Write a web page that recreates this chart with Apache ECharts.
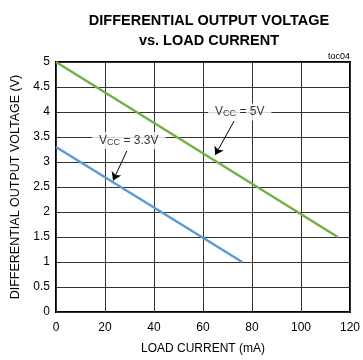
<!DOCTYPE html>
<html><head><meta charset="utf-8">
<script src="https://cdn.jsdelivr.net/npm/echarts@6/dist/echarts.min.js"></script>
<style>html,body{margin:0;padding:0;background:#fff}#c{width:363px;height:360px}</style>
</head><body><div id="c"></div>
<script>
// Data
const xTicks = [0, 20, 40, 60, 80, 100, 120];
const yTicks = [0, 0.5, 1, 1.5, 2, 2.5, 3, 3.5, 4, 4.5, 5];
const vcc5Current = [0, 115];
const vcc5Voltage = [5, 1.5];
const vcc33Current = [0, 76];
const vcc33Voltage = [3.3, 1.0];
// annotations (data coordinates)
const label5 = [75, 4.0];
const arrow5 = [[72.7, 3.82], [65, 3.14]];
const label33 = [29.7, 3.43];
const arrow33 = [[28.9, 3.22], [23.3, 2.63]];

const FONT = 'Liberation Sans, Arial, sans-serif';
const chart = echarts.init(document.getElementById('c'), null, {renderer: 'canvas'});
const pairs = (xs, ys) => xs.map((x, i) => [x, ys[i]]);
const rich = {
  v: {fontSize: 12, fontFamily: FONT, color: '#000'},
  s: {fontSize: 9, fontFamily: FONT, color: '#000', padding: [4, 0, 0, 0]}
};
chart.setOption({
  animation: false,
  title: [{
    text: 'DIFFERENTIAL OUTPUT VOLTAGE\nvs. LOAD CURRENT',
    left: 204, top: 6, textAlign: 'center',
    textStyle: {fontFamily: FONT, fontWeight: 'bold', fontSize: 14.5, lineHeight: 20, color: '#000'}
  }, {
    text: 'toc04', right: 8, top: 47,
    textStyle: {fontFamily: FONT, fontWeight: 'normal', fontSize: 9, color: '#000'}
  }],
  grid: {left: 56, right: 8, top: 62, bottom: 43, show: true, borderColor: '#000', borderWidth: 2, backgroundColor: 'transparent'},
  xAxis: {
    type: 'value', min: xTicks[0], max: xTicks[xTicks.length - 1], interval: 20,
    name: 'LOAD CURRENT (mA)', nameLocation: 'middle', nameGap: 31,
    nameTextStyle: {fontFamily: FONT, fontSize: 12, color: '#000'},
    axisLine: {show: false}, axisTick: {show: false},
    axisLabel: {fontFamily: FONT, fontSize: 12, color: '#000', margin: 10},
    splitLine: {show: true, lineStyle: {color: '#333', width: 1}}
  },
  yAxis: {
    type: 'value', min: yTicks[0], max: yTicks[yTicks.length - 1], interval: 0.5,
    name: 'DIFFERENTIAL OUTPUT VOLTAGE (V)', nameLocation: 'middle', nameGap: 34,
    nameTextStyle: {fontFamily: FONT, fontSize: 12.5, color: '#000'},
    axisLine: {show: false}, axisTick: {show: false},
    axisLabel: {fontFamily: FONT, fontSize: 12, color: '#000', margin: 6},
    splitLine: {show: true, lineStyle: {color: '#333', width: 1}}
  },
  series: [
    {type: 'line', data: pairs(vcc5Current, vcc5Voltage), symbol: 'none', lineStyle: {color: '#72b043', width: 2.5}, z: 3},
    {type: 'line', data: pairs(vcc33Current, vcc33Voltage), symbol: 'none', lineStyle: {color: '#5b9bd5', width: 2.5}, z: 3},
    {type: 'lines', coordinateSystem: 'cartesian2d', z: 4,
     symbol: ['none', 'arrow'], symbolSize: [0, 8],
     lineStyle: {color: '#000', width: 1, opacity: 1, curveness: 0},
     data: [{coords: arrow5}, {coords: arrow33}]},
    {type: 'scatter', symbolSize: 0, z: 5, silent: true,
     data: [
       {value: label5, label: {formatter: '{v|V}{s|CC}{v| = 5V}'}},
       {value: label33, label: {formatter: '{v|V}{s|CC}{v| = 3.3V}'}}
     ],
     label: {show: true, position: 'inside', backgroundColor: '#fff', padding: [2, 7, 2, 7], rich: rich}}
  ]
});
</script></body></html>
